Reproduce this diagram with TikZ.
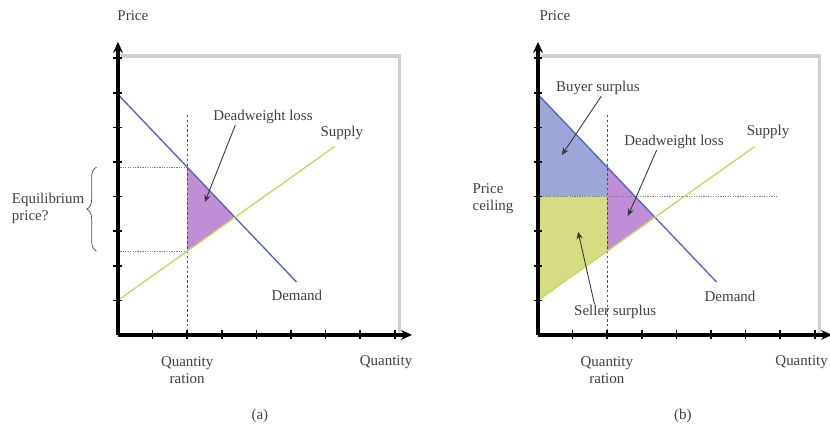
\documentclass[tikz,border=0pt]{standalone}
\usepackage{fontspec}
\setmainfont{Liberation Serif}
\usetikzlibrary{arrows.meta,shadows,decorations.pathreplacing}

\definecolor{demandblue}{HTML}{5A62B4}
\definecolor{supplyyellow}{HTML}{C8D66A}
\definecolor{dwlpurple}{HTML}{BF8ED6}
\definecolor{buyerblue}{HTML}{9DA6D8}
\definecolor{selleryellow}{HTML}{D6DB84}

\begin{document}
\begin{tikzpicture}[
    lbl/.style={font=\fontsize{12.3}{14}\selectfont, text=black!75, inner sep=1pt},
    frame/.style={fill=white, draw=gray!40, anchor=south west, inner sep=0pt,
                  minimum width=8.09cm, minimum height=8.03cm,
                  general shadow={fill=gray!45, opacity=0.8, shadow xshift=2pt, shadow yshift=2pt}},
    axis/.style={line width=2.8pt, -{Stealth[length=9pt,width=8pt]}},
    tick/.style={line width=1.3pt},
    demand/.style={demandblue, line width=1.1pt},
    supply/.style={supplyyellow, line width=1.1pt},
    guide/.style={gray, dash pattern=on 1pt off 1pt, line width=0.8pt},
    ration/.style={black!70, dash pattern=on 2pt off 2pt, line width=0.6pt},
    pointer/.style={-{Stealth[length=6pt,width=5pt]}, line width=0.7pt, black!80}
  ]
  \useasboundingbox (-3.41,-2.69) rectangle (20.58,9.68);

  % panel (a)
  \begin{scope}
    \node[frame] (boxA) at (0,0) {};
    \fill[dwlpurple] (2,4.85) -- (3.38,3.40) -- (2,2.42) -- cycle;
    \draw[guide] (0,4.85) -- (2,4.85);
    \draw[guide] (0,2.42) -- (2,2.42);
    \draw[ration] (2,6.36) -- (2,0);
    \draw[demand] (0,6.95) -- (5.16,1.53);
    \draw[supply] (0,1) -- (6.27,5.45);
    \draw[axis] (0,0) -- (8.5,0);
    \draw[axis] (0,0) -- (0,8.47);
    \foreach \k in {1,...,8} {
      \draw[tick] (\k,-0.13) -- (\k,0.13);
      \draw[tick] (-0.13,\k) -- (0.13,\k);
    }

    \node[lbl] (priceA) at (0.43,9.22) {Price};
    \node[lbl] (qtyA) at (7.75,-0.78) {Quantity};
    \node[lbl, align=center] (rationA) at (2,-1.03) {Quantity\\ration};
    \node[lbl] (supplyA) at (6.47,5.84) {Supply};
    \node[lbl] (demandA) at (5.17,1.13) {Demand};
    \node[lbl] (dwlA) at (4.19,6.30) {Deadweight loss};
    \node[lbl, align=left] (eqA) at (-2.02,3.66) {Equilibrium\\price?};
    \node[lbl] (capA) at (4.1,-2.34) {(a)};

    \coordinate (dwlAtip) at (2.51,3.84);
    \draw[pointer] ([xshift=-0.8cm]dwlA.south) -- (dwlAtip);
    \draw[black!70, line width=0.6pt, decorate, decoration={brace, amplitude=8pt}]
      (-0.62,2.42) -- (-0.62,4.85);
  \end{scope}

  % panel (b)
  \begin{scope}[xshift=12.14cm]
    \node[frame] (boxB) at (0,0) {};
    \fill[buyerblue] (0,6.95) -- (2,4.85) -- (2,4) -- (0,4) -- cycle;
    \fill[selleryellow] (0,4) -- (2,4) -- (2,2.42) -- (0,1) -- cycle;
    \fill[dwlpurple] (2,4.85) -- (3.38,3.40) -- (2,2.42) -- cycle;
    \draw[guide] (0,4) -- (6.9,4);
    \draw[ration] (2,6.36) -- (2,0);
    \draw[demand] (0,6.95) -- (5.16,1.53);
    \draw[supply] (0,1) -- (6.27,5.45);
    \draw[axis] (0,0) -- (8.5,0);
    \draw[axis] (0,0) -- (0,8.47);
    \foreach \k in {1,...,8} {
      \draw[tick] (\k,-0.13) -- (\k,0.13);
      \draw[tick] (-0.13,\k) -- (0.13,\k);
    }

    \node[lbl] (priceB) at (0.49,9.22) {Price};
    \node[lbl] (qtyB) at (7.62,-0.78) {Quantity};
    \node[lbl, align=center] (rationB) at (1.99,-1.03) {Quantity\\ration};
    \node[lbl] (supplyB) at (6.65,5.87) {Supply};
    \node[lbl] (demandB) at (5.55,1.10) {Demand};
    \node[lbl] (buyerB) at (1.73,7.14) {Buyer surplus};
    \node[lbl] (dwlB) at (3.93,5.58) {Deadweight loss};
    \node[lbl] (sellerB) at (2.23,0.66) {Seller surplus};
    \node[lbl, align=left] (ceilB) at (-1.30,3.95) {Price\\ceiling};
    \node[lbl] (capB) at (4.19,-2.34) {(b)};

    \coordinate (buyerBtip) at (0.69,5.20);
    \coordinate (dwlBtip) at (2.60,3.44);
    \coordinate (sellerBtip) at (1.16,2.98);
    \draw[pointer] ([xshift=0.1cm]buyerB.south) -- (buyerBtip);
    \draw[pointer] ([xshift=-0.5cm]dwlB.south) -- (dwlBtip);
    \draw[pointer] ([xshift=-0.6cm]sellerB.north) -- (sellerBtip);
  \end{scope}
\end{tikzpicture}
\end{document}
